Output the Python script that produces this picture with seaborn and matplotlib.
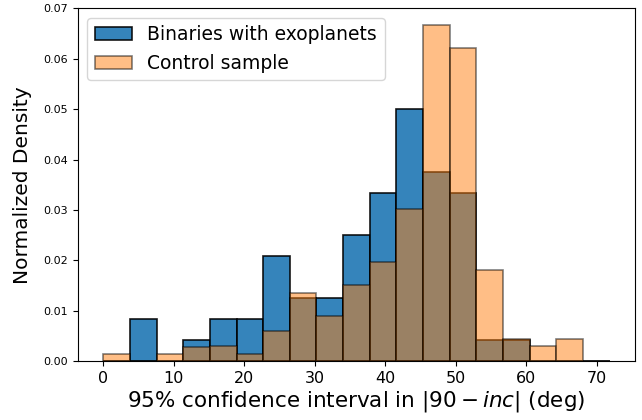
import numpy as np
import pandas as pd
import matplotlib
matplotlib.use("Agg")
import matplotlib.pyplot as plt
import seaborn as sns

# Bin edges (deg)
bin_edges = list(np.linspace(0, 71.8, 20))
bin_centers = [0.5 * (a + b) for a, b in zip(bin_edges[:-1], bin_edges[1:])]

# Normalized densities (19 bins)
binaries_density = [0.0, 0.0083, 0.0, 0.0042, 0.0083, 0.0083, 0.0209, 0.0125,
                    0.0125, 0.0251, 0.0334, 0.0501, 0.0376, 0.0334, 0.0042,
                    0.0042, 0.0, 0.0, 0.0]
control_density = [0.0015, 0.0, 0.0015, 0.0029, 0.0030, 0.0014, 0.0060, 0.0136,
                   0.0089, 0.0151, 0.0196, 0.0301, 0.0667, 0.0621, 0.0181,
                   0.0045, 0.0030, 0.0045, 0.0]

label_binaries = "Binaries with exoplanets"
label_control = "Control sample"

df_b = pd.DataFrame({"x": bin_centers, "w": binaries_density})
df_c = pd.DataFrame({"x": bin_centers, "w": control_density})

plt.rcParams['font.family'] = ['DejaVu Sans']

fig, ax = plt.subplots(figsize=(6.42, 4.2), dpi=100)

sns.histplot(data=df_b, x="x", weights="w", bins=bin_edges, ax=ax,
             color="#1f77b4", alpha=0.9, edgecolor=(0, 0, 0, 0.9), linewidth=1.2,
             label=label_binaries)
sns.histplot(data=df_c, x="x", weights="w", bins=bin_edges, ax=ax,
             color="#ff7f0e", alpha=0.5, edgecolor=(0, 0, 0, 0.5), linewidth=1.2,
             label=label_control)

ax.set_xlim(-3.59, 75.39)
ax.set_ylim(0, 0.07)
ax.set_xticks([0, 10, 20, 30, 40, 50, 60, 70])
ax.set_yticks([0, 0.01, 0.02, 0.03, 0.04, 0.05, 0.06, 0.07])
ax.set_yticklabels(["0.00", "0.01", "0.02", "0.03", "0.04", "0.05", "0.06", "0.07"])
ax.tick_params(axis='x', labelsize=11.5)
ax.tick_params(axis='y', labelsize=8)
ax.set_xlabel(r"95% confidence interval in $|90 - inc|$ (deg)", fontsize=15.5, labelpad=2)
ax.set_ylabel("Normalized Density", fontsize=14.5, labelpad=8)
ax.legend(loc="upper left", fontsize=13.5, handlelength=2.0)

fig.subplots_adjust(left=0.1215, right=0.989, top=0.980, bottom=0.140)
fig.savefig("out.png", dpi=100)
